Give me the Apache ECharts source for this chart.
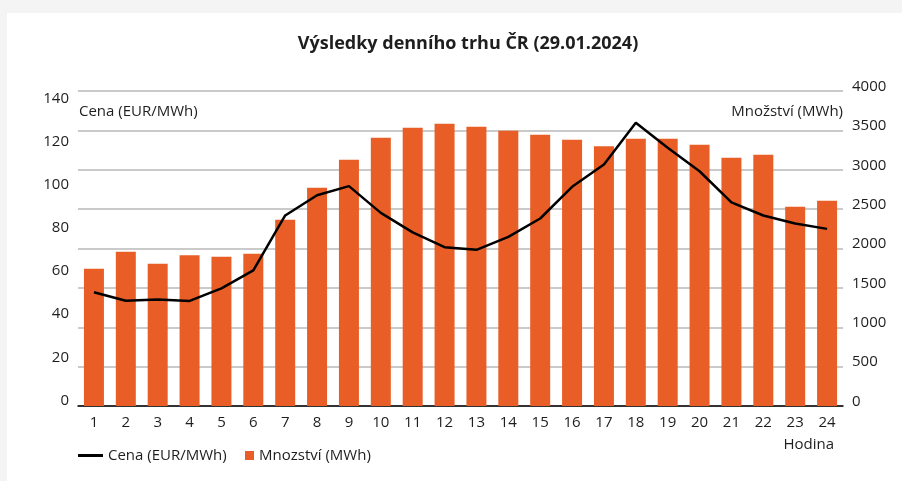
<!DOCTYPE html>
<html>
<head>
<meta charset="utf-8">
<script src="https://cdn.jsdelivr.net/npm/echarts@6/dist/echarts.min.js"></script>
<style>
html,body{margin:0;padding:0;background:#f4f4f4;width:902px;height:481px;overflow:hidden;}
#card{position:absolute;left:7px;top:13px;right:0;bottom:0;background:#fff;}
#chart{position:absolute;left:0;top:0;width:902px;height:481px;}
</style>
</head>
<body>
<div id="card"></div>
<div id="chart"></div>
<script>
const hours = ['1','2','3','4','5','6','7','8','9','10','11','12','13','14','15','16','17','18','19','20','21','22','23','24'];
const price = [52.7, 48.8, 49.4, 48.7, 54.5, 62.9, 88.3, 97.7, 101.9, 89.5, 80.5, 73.6, 72.4, 78.4, 86.9, 101.6, 111.9, 131.3, 119.7, 108.8, 94.4, 88.3, 84.6, 82.1];
const volume = [1743, 1960, 1807, 1914, 1896, 1934, 2366, 2772, 3128, 3407, 3534, 3585, 3547, 3496, 3445, 3382, 3297, 3394, 3394, 3318, 3153, 3191, 2531, 2607];
const priceName = 'Cena (EUR/MWh)';
const volumeName = 'Mnozství (MWh)';

const FONT = 'Open Sans';
const TXT = '#1e1e1e';
const FS = 15;
const chart = echarts.init(document.getElementById('chart'), null, {renderer:'canvas'});
chart.setOption({
  backgroundColor: 'transparent',
  animation: false,
  textStyle: {fontFamily: FONT, color: TXT},
  title: {
    text: 'Výsledky denního trhu ČR (29.01.2024)',
    left: 463, top: 30, textAlign: 'center',
    textStyle: {fontFamily: FONT, fontWeight: 'bold', fontSize: 18, color: TXT}
  },
  grid: {left: 78, right: 59, top: 91, bottom: 75, containLabel: false},
  legend: [
    {data: [{name: priceName, icon: 'rect'}], left: 78, top: 448, itemWidth: 25, itemHeight: 3,
     textStyle: {fontFamily: FONT, fontSize: FS, color: TXT}, itemGap: 0, padding: 0},
    {data: [{name: volumeName, icon: 'rect'}], left: 245, top: 448, itemWidth: 9, itemHeight: 9,
     textStyle: {fontFamily: FONT, fontSize: FS, color: TXT}, itemGap: 0, padding: 0}
  ],
  xAxis: {
    type: 'category', data: hours,
    axisLine: {lineStyle: {color: '#000', width: 1.5}},
    axisTick: {show: false},
    axisLabel: {fontFamily: FONT, fontSize: FS, color: TXT, margin: 9}
  },
  yAxis: [
    {type: 'value', min: 0, max: 146, interval: 20, position: 'left',
     splitLine: {show: false}, axisLine: {show: false}, axisTick: {show: false},
     axisLabel: {fontFamily: FONT, fontSize: FS, color: TXT, margin: 9, showMaxLabel: false,
       verticalAlign: 'bottom', lineHeight: 11,
       formatter: v => (v % 20 === 0 ? String(v) : '')}},
    {type: 'value', min: 0, max: 4000, interval: 500, position: 'right',
     splitLine: {show: true, lineStyle: {color: '#b9b9b9', width: 1.5}},
     axisLine: {show: false}, axisTick: {show: false},
     axisLabel: {fontFamily: FONT, fontSize: FS, color: TXT, margin: 9,
       verticalAlign: 'bottom', lineHeight: 9, formatter: v => String(v)}}
  ],
  series: [
    {name: volumeName, type: 'bar', yAxisIndex: 1, data: volume, barWidth: 20,
     itemStyle: {color: '#e95e27'}, z: 2},
    {name: priceName, type: 'line', yAxisIndex: 0, data: price, symbol: 'none',
     lineStyle: {color: '#000', width: 2.5}, itemStyle: {color: '#000'}, z: 3}
  ],
  graphic: [
    {type: 'text', left: 79, top: 104, style: {text: 'Cena (EUR/MWh)', font: '15px "Open Sans"', fill: TXT}},
    {type: 'text', right: 59, top: 104, style: {text: 'Množství (MWh)', font: '15px "Open Sans"', fill: TXT}},
    {type: 'text', right: 68, top: 437, style: {text: 'Hodina', font: '15px "Open Sans"', fill: TXT}}
  ]
});
</script>
</body>
</html>
